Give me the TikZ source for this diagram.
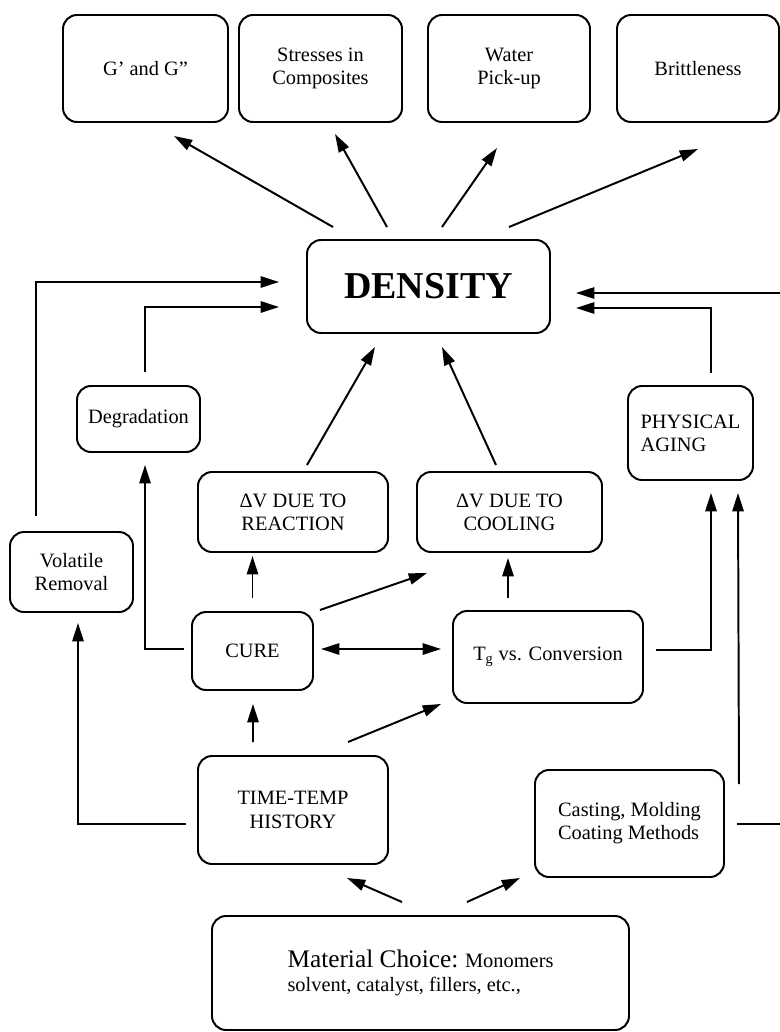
\documentclass[tikz,border=0pt]{standalone}
\usepackage{fontspec}
\setmainfont{Liberation Serif}
\usetikzlibrary{arrows.meta,positioning,calc}

\tikzset{
  box/.style 2 args={draw, rounded corners=10pt, line width=1.4pt, align=center, inner sep=2pt,
    minimum width=#1*0.025cm, minimum height=#2*0.025cm, font=\fontsize{14.5}{16.5}\selectfont},
  arr/.style={line width=1.4pt, -{Triangle[length=13pt,width=8pt]}},
  twoarr/.style={line width=1.4pt, {Triangle[length=13pt,width=8pt]}-{Triangle[length=13pt,width=8pt]}}
}

\begin{document}
\begin{tikzpicture}[x=0.025cm, y=-0.025cm]
\useasboundingbox (0,0) rectangle (780,1032);
\clip (0,0) rectangle (780,1032);

% properties
\node[box={165}{107}] (gg) at (145.5,68.5) {G' and G"};
\node[box={163}{107}] (stress) at (320.5,68.5) {Stresses in\\Composites};
\node[box={162}{107}] (water) at (509,68.5) {Water\\Pick-up};
\node[box={162}{107}] (brittle) at (698,68.5) {Brittleness};

\node[box={243}{93}, font=\fontsize{27}{30}\selectfont\bfseries] (density) at (428.5,286.5) {DENSITY};

\node[box={123}{66}] (degr) at (138.5,419) {Degradation};
\node[box={123}{80}] (volat) at (71.5,572) {Volatile\\Removal};
\node[box={190}{80}] (dvreac) at (293,512) {ΔV DUE TO\\REACTION};
\node[box={185}{80}] (dvcool) at (509.5,512) {ΔV DUE TO\\COOLING};
\node[box={125}{94}, align=left] (phys) at (690.5,433) {PHYSICAL\\AGING};
\node[box={121}{78}] (cure) at (252.5,651) {CURE};
\node[box={190}{92}] (tg) at (548,657) {T\textsubscript{g} vs. Conversion};
\node[box={190}{108}] (tt) at (293,810) {TIME-TEMP\\HISTORY};
\node[box={189}{107}, align=left] (cast) at (629.5,823.5) {Casting, Molding\\Coating Methods};
\node[box={417}{114}, align=left] (mat) at (420.5,973)
  {{\fontsize{18}{20}\selectfont Material Choice:} Monomers\\solvent, catalyst, fillers, etc.,};

% density to properties
\draw[arr] ($(density.north west)+(27,-12)$) -- ($(gg.south east)+(-55,13)$);
\draw[arr] ($(density.north west)+(81,-12)$) -- ($(stress.south)+(14.5,11)$);
\draw[arr] ($(density.north)+(13.5,-12)$) -- ($(water.south)+(-12,25)$);
\draw[arr] ($(density.north east)+(-42,-12)$) -- ($(brittle.south)+(0,26)$);

% into density
\draw[arr] ($(volat.north west)+(27,-15)$) |- ($(density.west)+(-27,-4.5)$);
\draw[arr] ($(degr.north)+(6.5,-13)$) |- ($(density.west)+(-27,20.5)$);
\draw[arr] ($(cast.east)+(12,0.5)$) -- ++(60,0) |- ($(density.east)+(25,6.5)$);
\draw[arr] ($(phys.north)+(20.5,-12)$) |- ($(density.east)+(25,21.5)$);
\draw[arr] ($(dvreac.north)+(14,-6)$) -- ($(density.south)+(-53.5,13)$);
\draw[arr] ($(dvcool.north)+(-13.5,-6)$) -- ($(density.south)+(13.5,13)$);

% middle
\draw[arr] ($(cure.north)+(0,-13)$) -- ($(cure.north)+(0,-55)$);
\draw[arr] ($(cure.north east)+(6,-1)$) -- ($(dvcool.south west)+(11,20)$);
\draw[arr] ($(tg.north)+(-40,-12)$) -- ($(dvcool.south)+(-1.5,5)$);
\draw[twoarr] ($(cure.east)+(7,-2)$) -- ($(tg.west)+(-11,-8)$);
\draw[arr] ($(cure.west)+(-7,-2)$) -| ($(degr.south)+(6.5,12)$);
\draw[arr] ($(tg.east)+(12,-7)$) -| ($(phys.south)+(20.5,12)$);
\draw[arr] ($(cast.north east)+(14,15)$) -- ($(phys.south)+(47.5,12)$);

% lower
\draw[arr] ($(tt.north)+(-40,-13)$) -- ($(cure.south)+(0.5,13)$);
\draw[arr] ($(tt.north east)+(-41,-13)$) -- ($(tg.south west)+(-11,0)$);
\draw[arr] ($(tt.west)+(-11,14)$) -| ($(volat.south)+(6.5,10)$);
\draw[arr] ($(mat.north)+(-18.5,-13)$) -- ($(tt.south)+(54,13)$);
\draw[arr] ($(mat.north)+(46.5,-13)$) -- ($(cast.south west)+(-14,0)$);
\end{tikzpicture}
\end{document}
